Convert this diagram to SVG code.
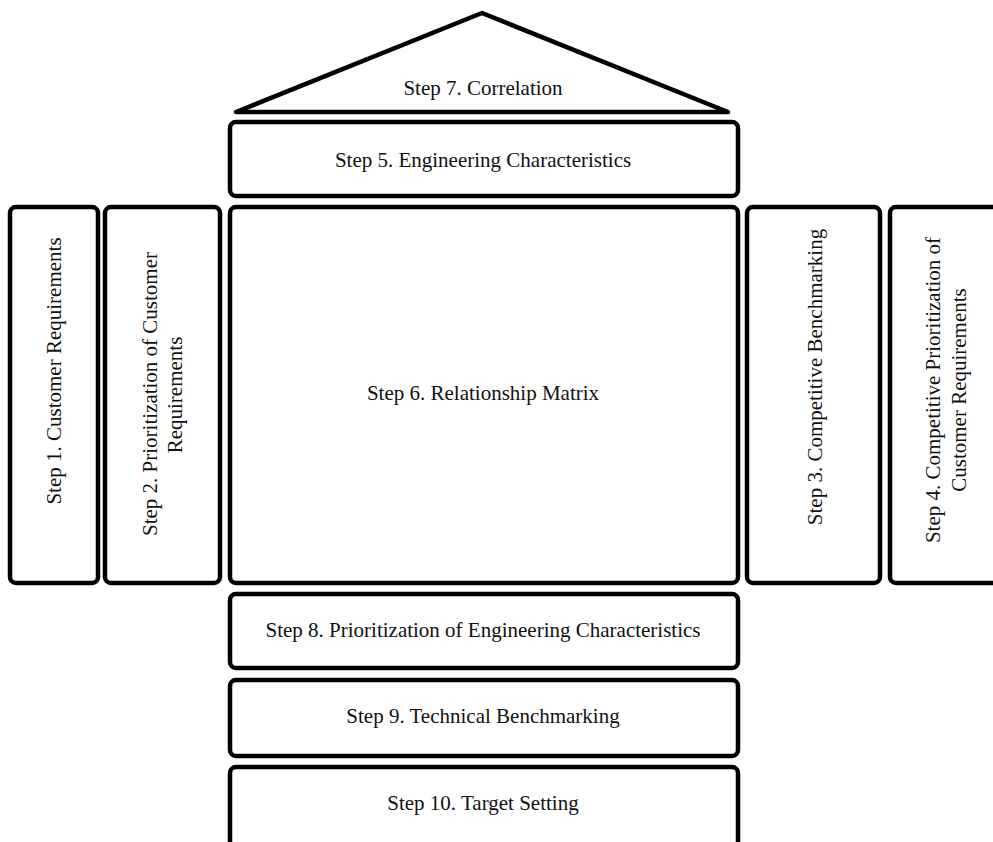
<svg xmlns="http://www.w3.org/2000/svg" width="993" height="842" viewBox="0 0 993 842">
<style>
.box{fill:#fff;stroke:#000;stroke-width:4.5}
.t{font-family:"Liberation Serif","Times New Roman",serif;font-size:21px;fill:#111;text-anchor:middle}
</style>
<rect width="993" height="842" fill="#fff"/>
<g id="step7"><polygon class="box" points="482,13 236,112 728,112" stroke-linejoin="round"/><text class="t" x="483" y="95">Step 7. Correlation</text></g>
<g id="step5"><rect class="box" x="230" y="122" width="508" height="74" rx="6"/><text class="t" x="483" y="167">Step 5. Engineering Characteristics</text></g>
<g id="step1"><rect class="box" x="10" y="207" width="88" height="376" rx="6"/><text class="t" transform="translate(61,371) rotate(-90)">Step 1. Customer Requirements</text></g>
<g id="step2"><rect class="box" x="105" y="207" width="115" height="376" rx="6"/><text class="t" transform="translate(157,394) rotate(-90)">Step 2. Prioritization of Customer</text><text class="t" transform="translate(182,395) rotate(-90)">Requirements</text></g>
<g id="step6"><rect class="box" x="230" y="207" width="508" height="376" rx="6"/><text class="t" x="483" y="400">Step 6. Relationship Matrix</text></g>
<g id="step3"><rect class="box" x="747" y="207" width="133" height="376" rx="6"/><text class="t" transform="translate(822,377) rotate(-90)">Step 3. Competitive Benchmarking</text></g>
<g id="step4"><rect class="box" x="890" y="207" width="130" height="376" rx="6"/><text class="t" transform="translate(940,390) rotate(-90)">Step 4. Competitive Prioritization of</text><text class="t" transform="translate(966,390) rotate(-90)">Customer Requirements</text></g>
<g id="step8"><rect class="box" x="230" y="594" width="508" height="74" rx="6"/><text class="t" x="483" y="637">Step 8. Prioritization of Engineering Characteristics</text></g>
<g id="step9"><rect class="box" x="230" y="680" width="508" height="76" rx="6"/><text class="t" x="483" y="723">Step 9. Technical Benchmarking</text></g>
<g id="step10"><rect class="box" x="230" y="767" width="508" height="100" rx="6"/><text class="t" x="483" y="810">Step 10. Target Setting</text></g>
<g id="connectors"></g>
</svg>
